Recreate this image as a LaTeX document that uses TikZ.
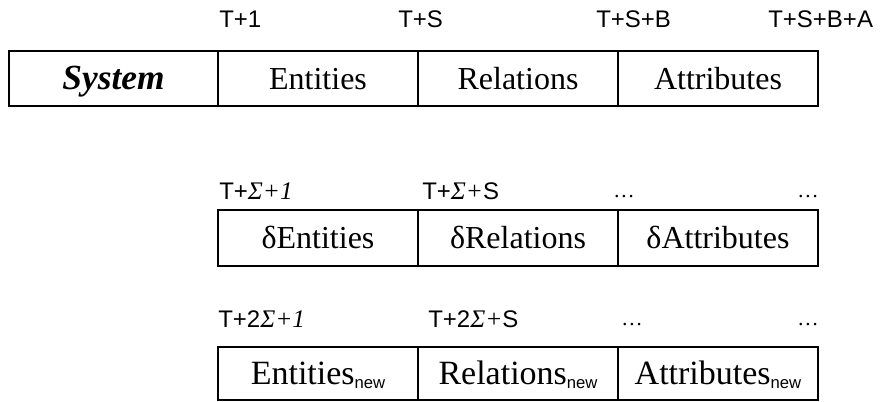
\documentclass[tikz,border=0pt]{standalone}
\usepackage{fontspec}
\setmainfont{Liberation Serif}
\newfontfamily\labelfont{Liberation Sans}
\usetikzlibrary{positioning}
\newcommand\sigmait[1]{{\rmfamily\itshape\fontsize{19}{19}\selectfont #1}}
\begin{document}
\begin{tikzpicture}[x=0.75pt,y=-0.75pt,
	cell/.style={draw,line width=1.6pt,outer sep=0pt,inner sep=0pt,text height=16pt,text depth=0pt,minimum width=150pt,minimum height=42pt,font=\fontsize{24}{24}\selectfont},
	newcell/.style={cell,minimum height=40pt,text height=17pt,font=\fontsize{25.5}{25.5}\selectfont},
	lbl/.style={anchor=base west,inner sep=0pt,font=\labelfont\fontsize{18}{18}\selectfont},
	dots/.style={anchor=base,inner sep=0pt,font=\fontsize{16}{16}\selectfont}]
	\useasboundingbox (0,0) rectangle (886,402);
	\node[cell,minimum width=156.75pt,minimum height=41.25pt,text height=17pt,font=\fontsize{26.5}{26.5}\selectfont\bfseries\itshape] (sys) at (113.5,78.5) {System};
	\node[cell,minimum height=41.25pt,right=0pt of sys] (ent) {Entities};
	\node[cell,minimum height=41.25pt,right=0pt of ent] (rel) {Relations};
	\node[cell,minimum height=41.25pt,right=0pt of rel] (att) {Attributes};
	\draw[line width=2.2pt] (sys.north west) rectangle (att.south east);
	\node[lbl] (t1) at (219,28) {T+1};
	\node[lbl] (ts) at (398,28) {T+S};
	\node[lbl] (tsb) at (596,28) {T+S+B};
	\node[lbl] (tsba) at (768,28) {T+S+B+A};
	\node[cell] (dent) at (318,238) {δEntities};
	\node[cell,right=0pt of dent] (drel) {δRelations};
	\node[cell,right=0pt of drel] (datt) {δAttributes};
	\node[lbl] (d1) at (219,200) {T+\sigmait{Σ+1}};
	\node[lbl] (ds) at (422,200) {T+\sigmait{Σ+}S};
	\node[dots] (dd1) at (624,198) {\dots};
	\node[dots] (dd2) at (808,198) {\dots};
	\node[newcell] (nent) at (318,373.5) {Entities{\labelfont\fontsize{12.5}{12.5}\selectfont\raisebox{-3pt}{new}}};
	\node[newcell,right=0pt of nent] (nrel) {Relations{\labelfont\fontsize{12.5}{12.5}\selectfont\raisebox{-3pt}{new}}};
	\node[newcell,right=0pt of nrel] (natt) {Attributes{\labelfont\fontsize{12.5}{12.5}\selectfont\raisebox{-3pt}{new}}};
	\node[lbl] (n1) at (218,328) {T+2\sigmait{Σ+1}};
	\node[lbl] (ns) at (428,328) {T+2\sigmait{Σ+}S};
	\node[dots] (nd1) at (632,326) {\dots};
	\node[dots] (nd2) at (808,326) {\dots};
\end{tikzpicture}
\end{document}
